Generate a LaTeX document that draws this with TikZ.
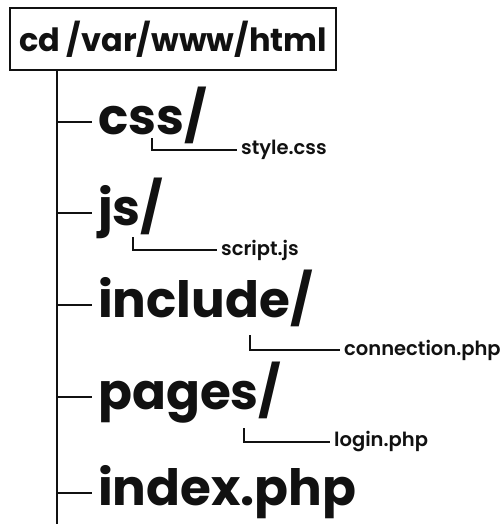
\documentclass[tikz,border=0pt]{standalone}
\usepackage{fontspec}
\setmainfont{Poppins}
\newfontfamily\archivofont{Poppins SemiBold}
\usetikzlibrary{positioning}
\definecolor{arbolNegro}{HTML}{111111}

\begin{document}
\begin{tikzpicture}[x=1pt,y=-1pt,
    carpeta/.style={anchor=west, inner xsep=6pt, inner ysep=0pt, text height=24pt, text depth=0pt,
      text=arbolNegro, font=\bfseries\fontsize{50}{50}\selectfont},
    archivo/.style={anchor=west, inner sep=4pt, text=arbolNegro, font=\archivofont\fontsize{19.5}{19.5}\selectfont},
    rama/.style={draw=arbolNegro, line width=2pt},
    subrama/.style={draw=arbolNegro, line width=1.4pt}]
  \useasboundingbox (0,0) rectangle (503,524);
  \node[draw=arbolNegro, line width=1.4pt, minimum width=326pt, minimum height=62pt,
    text=arbolNegro, font=\bfseries\fontsize{32}{32}\selectfont] (raiz) at (173,39) {cd /var/www/html};
  \coordinate (tronco) at (57,524);
  \node[carpeta] (css) at (92,122) {css/};
  \node[carpeta] (js) at (92,213) {js/};
  \node[carpeta] (include) at (92,305) {include/};
  \node[carpeta] (pages) at (92,397) {pages/};
  \node[carpeta] (index) at (92,493) {index.php};
  \draw[rama] (tronco |- raiz.south) -- (tronco);
  \foreach \n in {css,js,include,pages,index}
    \draw[rama] (tronco |- \n.west) -- (\n.west);
  % archivos dentro de cada carpeta
  \coordinate (csspunta) at (152,138);
  \coordinate (jspunta) at (133,237);
  \coordinate (includepunta) at (250,335);
  \coordinate (pagespunta) at (244,428);
  \node[archivo] (stylecss) at (237,150) {style.css};
  \node[archivo] (scriptjs) at (217,250) {script.js};
  \node[archivo] (connection) at (340,350) {connection.php};
  \node[archivo] (login) at (330,442) {login.php};
  \draw[subrama] (csspunta) |- (stylecss.west);
  \draw[subrama] (jspunta) |- (scriptjs.west);
  \draw[subrama] (includepunta) |- (connection.west);
  \draw[subrama] (pagespunta) |- (login.west);
\end{tikzpicture}
\end{document}
